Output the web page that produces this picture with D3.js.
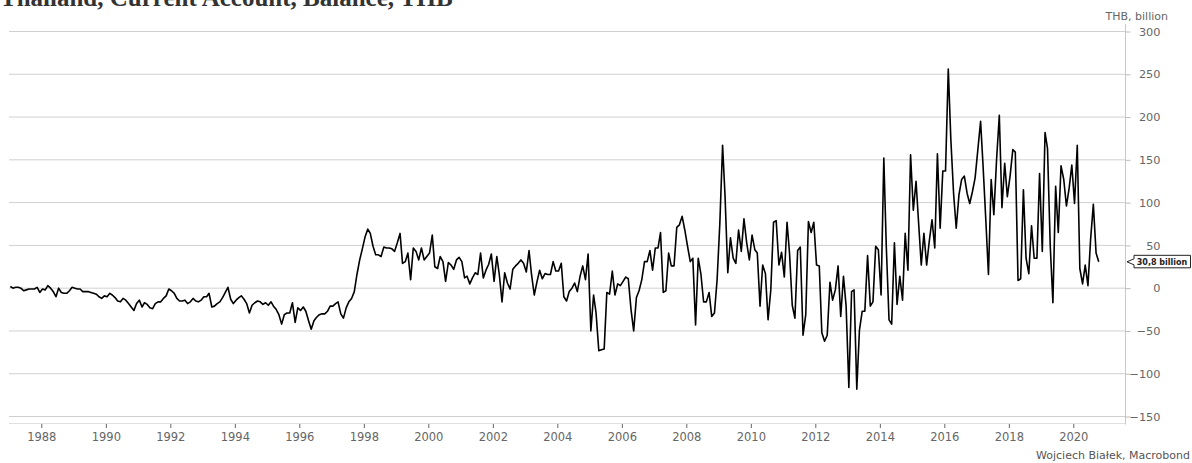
<!DOCTYPE html>
<html>
<head>
<meta charset="utf-8">
<script src="https://cdn.jsdelivr.net/npm/d3@7"></script>
<style>
  body { margin: 0; background: #fff; }
  svg { display: block; font-family: "DejaVu Sans", Verdana, sans-serif; }
</style>
</head>
<body>
<div class="canvas"></div>
<script>
// monthly current account balance, THB billion, first point Jan 1987
const firstMonth = new Date(1987, 0, 15);
const cab1987to1996 = [
  2, 0, 1, 1, 0, -3, -2, -1, -1, -1, 1, -5,
  -1, -2, 3, 0, -4, -10, 0, -5, -6, -6, -3, 1,
  0, -1, -1, -4, -4, -4, -5, -6, -7, -10, -12, -9,
  -10, -6, -8, -11, -15, -16, -12, -14, -18, -22, -26, -18,
  -14, -22, -17, -19, -23, -24, -18, -16, -16, -12, -9, -1,
  -3, -6, -12, -15, -15, -14, -18, -16, -12, -15, -16, -14,
  -10, -10, -6, -22, -21, -18, -16, -11, -5, 1, -13, -18,
  -14, -11, -9, -13, -18, -29, -20, -17, -15, -16, -19, -17,
  -20, -16, -21, -25, -31, -42, -31, -29, -29, -17, -40, -23,
  -26, -22, -27, -38, -48, -38, -34, -31, -30, -30, -27, -21
];
const cab1997to2006 = [
  -21, -18, -16, -30, -35, -23, -16, -12, -4, 16, 33, 46,
  60, 69, 64, 49, 39, 39, 37, 48, 47, 47, 46, 43,
  53, 64, 29, 31, 41, 10, 47, 43, 33, 47, 33, 37,
  41, 62, 25, 23, 37, 31, 8, 30, 27, 22, 33, 36,
  31, 12, 14, 5, 12, 18, 16, 41, 12, 21, 28, 40,
  8, 37, 16, -16, 18, 6, -1, 22, 26, 29, 33, 29,
  19, 44, 16, -8, 7, 21, 11, 17, 16, 16, 31, 20,
  20, 29, -10, -15, -4, 0, 6, -4, 14, 26, 10, 40,
  -50, -8, -29, -73, -72, -71, -5, -7, 20, -8, 5, 3,
  8, 13, 11, -25, -50, -11, -3, 10, 31, 31, 44, 21
];
const cab2007to2016 = [
  47, 47, 65, -5, -3, 41, 26, 26, 71, 74, 84, 68,
  49, 31, 35, -43, 35, 16, -16, -16, -5, -33, -29, 10,
  76, 167, 107, 18, 59, 35, 29, 68, 43, 81, 53, 33,
  62, 45, 41, -21, 27, 17, -37, -2, 77, 79, 27, 42,
  13, 77, 41, -20, -35, 44, 48, -55, -31, 78, 65, 77,
  27, 26, -52, -62, -55, 7, -14, -2, 26, -33, 14, -21,
  -116, -4, -2, -118, -49, -27, -27, 38, -21, -16, 49, 45,
  -8, 152, 49, -37, -42, 53, -19, 14, -14, 64, 21, 156,
  91, 125, 78, 27, 64, 27, 55, 80, 47, 157, 70, 137,
  137, 256, 174, 111, 70, 109, 127, 131, 111, 99, 113, 129
];
const cab2017to2020 = [
  162, 195, 143, 80, 16, 127, 86, 150, 202, 94, 146, 107,
  131, 162, 159, 9, 11, 115, 35, 17, 73, 35, 35, 134,
  43, 182, 163, 49, -17, 119, 65, 143, 127, 96, 117, 144,
  99, 167, 23, 5, 27, 3, 57, 98, 41, 30.8
];
const yTicks = [-150, -100, -50, 0, 50, 100, 150, 200, 250, 300];
const xTickYears = [1988, 1990, 1992, 1994, 1996, 1998, 2000, 2002, 2004,
  2006, 2008, 2010, 2012, 2014, 2016, 2018, 2020];

const balance = [].concat(cab1987to1996, cab1997to2006, cab2007to2016, cab2017to2020)
  .map((v, i) => ({ date: d3.timeMonth.offset(firstMonth, i), value: v }));

const dims = { width: 1192, height: 463 };
const plot = { left: 9, right: 1125, top: 31.5, bottom: 416.5, axisY: 423.5 };

const svg = d3.select('.canvas')
  .append('svg')
  .attr('width', dims.width)
  .attr('height', dims.height);

const x = d3.scaleTime()
  .domain([new Date(1988, 0, 1), new Date(2020, 0, 1)])
  .range([41.3, 1073.3]);

const y = d3.scaleLinear()
  .domain([-150, 300])
  .range([plot.bottom, plot.top]);

// title, cut at the top edge like the source
svg.append('text')
  .attr('x', 0)
  .attr('y', 6)
  .attr('font-family', '"Liberation Serif", "Times New Roman", serif')
  .attr('font-weight', 'bold')
  .attr('font-size', 25)
  .attr('fill', '#333')
  .text('Thailand, Current Account, Balance, THB');

// horizontal gridlines
svg.append('g')
  .selectAll('line')
  .data(yTicks)
  .join('line')
  .attr('x1', plot.left)
  .attr('x2', plot.right)
  .attr('y1', d => y(d))
  .attr('y2', d => y(d))
  .attr('stroke', '#d0d0d0')
  .attr('stroke-width', 1);

// bottom axis line
svg.append('line')
  .attr('x1', plot.left).attr('x2', plot.right)
  .attr('y1', plot.axisY).attr('y2', plot.axisY)
  .attr('stroke', '#e0e0e0');

// right axis line
svg.append('line')
  .attr('x1', plot.right + 0.5).attr('x2', plot.right + 0.5)
  .attr('y1', 24).attr('y2', plot.axisY + 1)
  .attr('stroke', '#c8c8c8');

// right axis
const yAxis = svg.append('g')
  .attr('transform', `translate(${plot.right + 0.5},0)`)
  .call(d3.axisRight(y).tickValues(yTicks).tickSize(5).tickSizeOuter(0));
yAxis.select('.domain').remove();
yAxis.selectAll('.tick line').attr('stroke', '#bbb');
yAxis.selectAll('.tick text')
  .attr('x', 35)
  .attr('text-anchor', 'end')
  .attr('font-family', '"DejaVu Sans", Verdana, sans-serif')
  .attr('font-size', 11.3)
  .attr('fill', '#666');

svg.append('text')
  .attr('x', 1168)
  .attr('y', 20)
  .attr('text-anchor', 'end')
  .attr('font-size', 11)
  .attr('fill', '#666')
  .text('THB, billion');

// bottom axis
const xAxis = svg.append('g')
  .attr('transform', `translate(0,${plot.axisY + 0.5})`)
  .call(d3.axisBottom(x)
    .tickValues(xTickYears.map(yr => new Date(yr, 0, 1)))
    .tickFormat(d3.timeFormat('%Y'))
    .tickSize(4)
    .tickPadding(5));
xAxis.select('.domain').remove();
xAxis.selectAll('.tick line').attr('stroke', '#666');
xAxis.selectAll('.tick text')
  .attr('font-family', '"DejaVu Sans", Verdana, sans-serif')
  .attr('font-size', 11.5)
  .attr('fill', '#666');

// the series
const line = d3.line()
  .x(d => x(d.date))
  .y(d => y(d.value));

svg.append('path')
  .datum(balance)
  .attr('d', line)
  .attr('fill', 'none')
  .attr('stroke', '#000')
  .attr('stroke-width', 1.6)
  .attr('stroke-linejoin', 'round');

// last value callout
const last = balance[balance.length - 1];
const ly = y(last.value);
const callout = svg.append('g');
callout.append('path')
  .attr('d', `M1134,${ly - 6.5} H1190.5 V${ly + 6} H1134 V${ly + 3} L1127,${ly} L1134,${ly - 3} Z`)
  .attr('fill', '#fff')
  .attr('stroke', '#222')
  .attr('stroke-width', 1);
callout.append('text')
  .attr('x', 1162)
  .attr('y', ly + 3)
  .attr('text-anchor', 'middle')
  .attr('font-size', 8)
  .attr('font-weight', 'bold')
  .attr('fill', '#222')
  .text(String(last.value).replace('.', ',') + ' billion');

// source
svg.append('text')
  .attr('x', 1190)
  .attr('y', 459)
  .attr('text-anchor', 'end')
  .attr('font-size', 11)
  .attr('fill', '#555')
  .text('Wojciech Białek, Macrobond');
</script>
</body>
</html>
